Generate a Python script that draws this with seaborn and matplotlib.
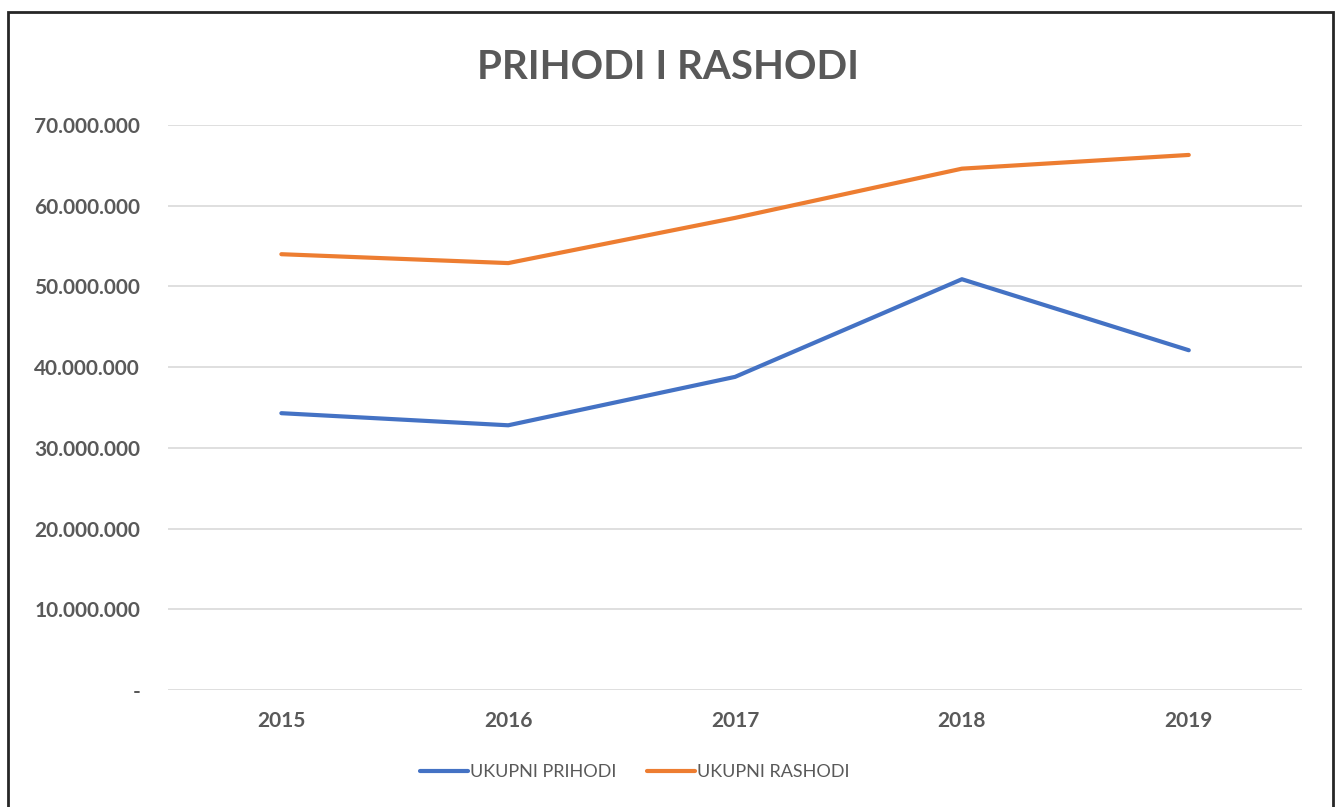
import pandas as pd
import matplotlib.pyplot as plt
import matplotlib.ticker as mticker
import seaborn as sns
from matplotlib.patches import Rectangle

# --- Data ---
years = ['2015', '2016', '2017', '2018', '2019']
prihodi = [34300000, 32800000, 38800000, 50900000, 42100000]
rashodi = [54000000, 52900000, 58500000, 64600000, 66300000]
series_names = ['UKUPNI PRIHODI', 'UKUPNI RASHODI']
colors = ['#4472C4', '#ED7D31']

df = pd.DataFrame({
    'Godina': years * 2,
    'Iznos': prihodi + rashodi,
    'Serija': [series_names[0]] * len(years) + [series_names[1]] * len(years),
})

sns.set_style('white')
plt.rcParams['font.family'] = ['Lato', 'DejaVu Sans']
text_color = '#595959'

fig = plt.figure(figsize=(13.36, 8.07), dpi=100)
ax = fig.add_axes([0.1257, 0.145, 0.849, 0.700])

sns.lineplot(data=df, x='Godina', y='Iznos', hue='Serija', palette=colors,
             linewidth=3, ax=ax, legend=False, sort=False)

ax.set_xlim(-0.5, len(years) - 0.5)
ax.set_ylim(0, 70000000)
ax.yaxis.set_major_locator(mticker.MultipleLocator(10000000))


def fmt(v, pos):
    if abs(v) < 1:
        return '-'
    return f'{int(v):,}'.replace(',', '.')


ax.yaxis.set_major_formatter(mticker.FuncFormatter(fmt))
ax.grid(axis='y', color='#d9d9d9', linewidth=1.2)
ax.set_axisbelow(True)
for s in ax.spines.values():
    s.set_visible(False)
ax.tick_params(axis='y', length=0, pad=20, labelsize=15, labelcolor=text_color)
ax.tick_params(axis='x', length=0, pad=15, labelsize=15, labelcolor=text_color)
for lbl in ax.get_xticklabels() + ax.get_yticklabels():
    lbl.set_fontweight('bold')
ax.set_xlabel('')
ax.set_ylabel('')

fig.text(0.5, 0.916, 'PRIHODI I RASHODI', ha='center', va='center',
         fontsize=29, fontweight='bold', color=text_color)

handles = [plt.Line2D([], [], color=c, linewidth=3) for c in colors]
leg = fig.legend(handles, series_names, loc='center', bbox_to_anchor=(0.475, 0.043),
                 ncol=2, frameon=False, handlelength=2.65, handletextpad=0.1,
                 columnspacing=1.7, prop={'size': 13})
for t in leg.get_texts():
    t.set_color(text_color)

# chart frame
fig.patches.append(Rectangle((0.006, -0.02), 0.9918, 1.005, transform=fig.transFigure,
                             fill=False, edgecolor='#262626', linewidth=2))

fig.savefig('out.png', dpi=100)
